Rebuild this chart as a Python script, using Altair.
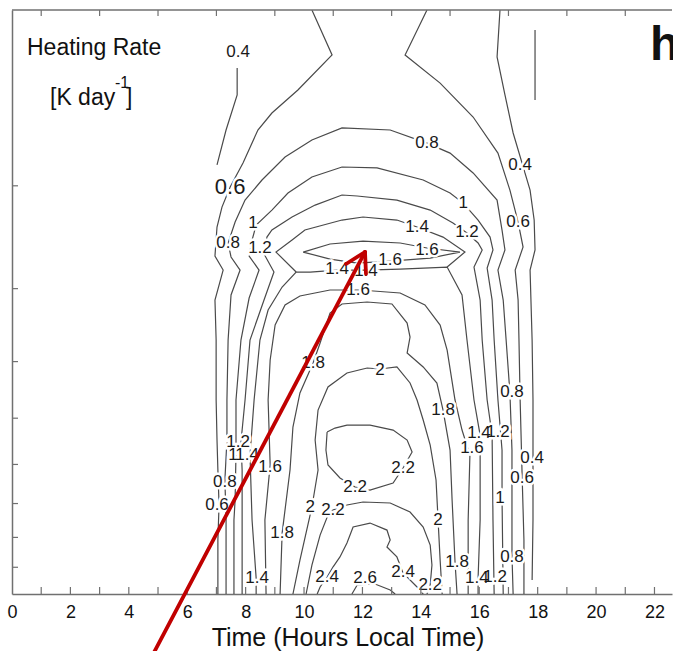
import altair as alt
import pandas as pd

# ---- contour lines: (time in hours, pressure level in hPa) ----
c04_left = [(7.71, 125.7), (7.71, 139.8), (7.33, 160.5), (7.02, 184.2)]
c04_right = [(16.71, 100), (16.61, 120.3), (16.88, 139.8), (17.16, 162.4), (17.74, 203.4),
             (17.88, 228.9), (17.91, 257.6), (17.74, 278.8), (17.81, 367.4), (17.84, 465.4),
             (17.84, 585.0), (17.84, 747.0), (17.81, 946.2)]
c04_right_top = [(17.91, 108.2), (17.91, 142.6)]
c06_left = [(7.05, 1000), (7.05, 808.3), (7.09, 704.0), (7.05, 613.3), (7.02, 545.0), (6.99, 465.4),
            (6.99, 367.4), (6.95, 313.8), (7.23, 278.8), (6.95, 263.8), (7.02, 235.3), (7.19, 217.5),
            (7.47, 200.9), (7.91, 182.8), (8.42, 160.5), (8.90, 150.1), (9.79, 137.1), (10.96, 119.4),
            (10.27, 100)]
c06_right = [(14.21, 100), (13.46, 119.4), (14.66, 133.4), (15.79, 152.5), (16.64, 175.8), (17.05, 203.4),
             (17.33, 230.7), (17.50, 254.6), (17.23, 278.8), (17.33, 313.8), (17.36, 367.4), (17.40, 465.4),
             (17.47, 633.0), (17.53, 808.3), (17.53, 1000)]
c08 = [(7.33, 1000), (7.33, 747.0), (7.29, 638.0), (7.36, 545.0), (7.36, 465.4), (7.40, 367.4), (7.50, 307.6),
       (7.81, 278.8), (7.50, 264.8), (7.40, 250.6), (7.64, 230.7), (7.98, 211.6), (8.56, 195.5), (9.35, 178.5),
       (10.27, 167.0), (11.30, 159.2), (12.95, 160.5), (14.21, 169.0), (15.00, 175.8), (15.79, 190.1),
       (16.61, 211.6), (16.78, 238.1), (16.88, 257.6), (16.64, 278.8), (16.82, 313.8), (16.92, 367.4),
       (17.05, 452.7), (17.12, 566.9), (17.12, 857.2), (17.16, 1000)]
c10 = [(7.60, 1000), (7.60, 747.0), (7.64, 690.2), (7.67, 573.6), (7.67, 465.4), (7.84, 367.4), (8.12, 311.3),
       (8.46, 278.8), (8.12, 263.8), (8.22, 247.7), (8.36, 233.5), (8.90, 220.1), (9.45, 205.8), (10.27, 193.2),
       (11.30, 185.7), (12.50, 186.4), (14.08, 195.5), (15.00, 205.8), (15.45, 214.1), (15.96, 228.9),
       (16.37, 244.8), (16.47, 257.6), (16.27, 276.6), (16.44, 313.8), (16.51, 367.4), (16.64, 465.4),
       (16.78, 566.9), (16.78, 685.0), (16.82, 1000)]
c12 = [(7.88, 1000), (7.88, 747.0), (7.88, 613.3), (7.84, 549.3), (7.98, 465.4), (8.15, 367.4), (8.63, 313.8),
       (8.97, 281.0), (8.63, 261.7), (8.73, 244.8), (8.90, 238.1), (9.59, 226.2), (10.38, 215.8), (11.30, 207.4),
       (11.82, 208.2), (13.18, 211.6), (14.32, 220.1), (15.10, 231.6), (15.58, 240.9), (15.96, 250.6),
       (16.10, 257.6), (15.82, 275.5), (16.03, 313.8), (16.10, 367.4), (16.27, 465.4), (16.44, 534.3),
       (16.47, 747.0), (16.51, 1000)]
c14_main = [(8.36, 1000), (8.36, 939.0), (8.22, 747.0), (8.15, 578.1), (8.29, 465.4), (8.49, 367.4),
            (8.77, 326.4), (9.25, 298.1), (9.73, 281.0), (10.21, 281.0), (11.13, 278.8), (12.09, 278.8),
            (13.29, 277.7), (14.90, 275.5), (15.41, 307.6), (15.58, 367.4), (15.82, 465.4), (16.03, 534.3),
            (16.03, 747.0), (15.96, 939.0), (15.96, 1000)]
c14_arc = [(9.73, 281.0), (9.04, 259.7), (9.59, 247.7), (10.03, 238.1), (11.30, 228.9), (12.02, 226.2),
           (13.18, 228.9), (13.87, 235.3), (14.76, 244.8), (15.51, 259.7), (14.90, 275.5)]
c16_upper = [(9.97, 259.7), (10.89, 251.6), (12.02, 248.7), (13.29, 250.6), (14.21, 255.6), (15.34, 259.7),
             (14.32, 265.9), (12.95, 269.1), (11.82, 271.2), (10.89, 267.0), (9.97, 259.7)]
c16_dome = [(8.70, 1000), (8.66, 747.0), (8.84, 601.3), (8.77, 465.4), (8.84, 397.4), (9.01, 346.3),
            (9.35, 320.0), (9.86, 308.8), (10.89, 301.6), (11.92, 301.6), (13.29, 305.2), (14.14, 320.0),
            (14.66, 346.3), (14.90, 382.2), (15.17, 465.4), (15.41, 523.9), (15.68, 578.1), (15.62, 747.0),
            (15.62, 1000)]
c18 = [(9.18, 1000), (9.25, 786.4), (9.52, 613.3), (9.62, 517.8), (9.86, 452.7), (10.31, 402.1),
       (10.55, 371.7), (10.89, 330.3), (11.30, 318.7), (12.16, 316.2), (13.01, 318.7), (13.53, 343.6),
       (13.63, 363.1), (13.53, 386.7), (14.08, 408.5), (14.55, 435.2), (14.76, 484.2), (15.00, 566.9),
       (15.07, 690.2), (15.17, 881.5), (15.24, 1000)]
c20 = [(9.62, 1000), (9.86, 874.6), (10.27, 709.6), (10.48, 613.3), (10.38, 545.0), (10.48, 484.2),
       (10.82, 442.1), (11.47, 418.4), (12.16, 410.2), (12.60, 411.8), (13.18, 408.5), (13.63, 435.2),
       (13.87, 465.4), (14.08, 503.6), (14.32, 555.9), (14.52, 638.0), (14.59, 747.0), (14.66, 874.6),
       (14.73, 1000)]
c22_loop = [(10.79, 528.0), (11.06, 519.8), (11.47, 513.7), (12.26, 513.7), (13.05, 523.9), (13.53, 545.0),
            (13.70, 571.4), (13.39, 608.4), (13.05, 645.6), (12.26, 663.8), (11.75, 656.0), (11.23, 633.0),
            (10.82, 601.3), (10.75, 566.9), (10.79, 528.0)]
c22_low = [(10.07, 1000), (10.27, 892.2), (10.55, 792.7), (10.82, 732.3), (10.99, 718.1), (11.47, 704.0),
           (12.02, 695.8), (12.95, 698.5), (13.63, 723.8), (14.08, 767.9), (14.32, 824.5), (14.38, 892.2),
           (14.32, 965.1), (14.21, 1000)]
c24 = [(10.45, 1000), (10.55, 972.7), (10.79, 935.2), (10.99, 899.2), (11.23, 864.0), (11.47, 817.9),
       (11.68, 767.9), (12.26, 756.0), (12.84, 777.2), (12.95, 808.3), (12.84, 830.9), (13.18, 864.0),
       (13.39, 920.5), (13.87, 972.7), (14.08, 1000)]
c26 = [(11.64, 1000), (11.82, 965.1), (12.43, 961.4), (12.95, 984.4), (13.12, 1000)]

segments = [
    ("0.4", c04_left), ("0.4", c04_right), ("0.4", c04_right_top),
    ("0.6", c06_left), ("0.6", c06_right), ("0.8", c08), ("1.0", c10), ("1.2", c12),
    ("1.4", c14_main), ("1.4", c14_arc), ("1.6", c16_upper), ("1.6", c16_dome),
    ("1.8", c18), ("2.0", c20), ("2.2", c22_loop), ("2.2", c22_low), ("2.4", c24), ("2.6", c26),
]

# ---- inline contour labels ----
label_text = ["0.4", "0.8", "0.4", "1", "0.6", "1.2", "1", "0.8", "1.2", "1.4", "1.6", "1.6", "1.4", "1.4",
              "1.6", "1.8", "2", "0.8", "1.8", "1.4", "1.2", "1.2", "1", "1.4", "1.6", "1.6", "0.4", "2.2",
              "0.6", "0.8", "2.2", "1", "0.6", "2", "2.2", "2", "1.8", "0.8", "1.8", "2.4", "2.4", "2.6",
              "1.4", "1.4", "1.2", "2.2"]
label_hour = [7.74, 14.21, 17.40, 15.45, 17.33, 15.58, 8.25, 7.40, 8.49, 13.87, 14.21, 12.95, 11.13, 12.12,
              11.85, 10.31, 12.60, 17.12, 14.76, 15.99, 16.64, 7.74, 7.57, 8.05, 8.84, 15.75, 17.81, 13.39,
              17.47, 7.29, 11.75, 16.71, 7.02, 10.21, 10.99, 14.59, 9.25, 17.12, 15.24, 13.39, 10.79, 12.09,
              8.39, 15.92, 16.54, 14.32]
label_hpa = [118.0, 169.0, 184.2, 214.1, 230.7, 240.0, 231.6, 250.6, 255.6, 235.3, 257.6, 268.0, 277.7, 279.9,
             301.6, 402.1, 413.4, 451.0, 484.2, 530.1, 528.0, 549.3, 578.1, 578.1, 605.0, 562.3, 585.0, 608.4,
             633.0, 643.0, 656.0, 685.0, 704.0, 709.6, 718.1, 747.0, 786.4, 864.0, 881.5, 916.8, 935.2, 939.0,
             939.0, 939.0, 935.2, 965.1]
big_label_text = ["0.6"]
big_label_hour = [7.47]
big_label_hpa = [200.9]

x_ticks_bottom = list(range(1, 23))
x_ticks_top = list(range(1, 23, 2))
x_tick_labels = list(range(0, 23, 2))
y_ticks = [200, 300, 400, 500, 600, 700, 800, 900]

rows = []
for sid, (lvl, pts) in enumerate(segments):
    for i, (h, p) in enumerate(pts):
        rows.append({"seg": sid, "level": lvl, "i": i, "hour": h, "hpa": p})
lines_df = pd.DataFrame(rows)
labels_df = pd.DataFrame({"text": label_text, "hour": label_hour, "hpa": label_hpa})
big_df = pd.DataFrame({"text": big_label_text, "hour": big_label_hour, "hpa": big_label_hpa})

FONT = "Liberation Sans"
W, H = 660, 584
AX = "#707070"

xscale = alt.Scale(domain=[0, 22.6], nice=False, zero=False)
yscale = alt.Scale(type="log", domain=[100, 1000], reverse=True, nice=False)
xaxis = alt.Axis(values=x_tick_labels, ticks=False, tickSize=0, grid=False, domainColor=AX, domainWidth=1.5,
                 labelFont=FONT, labelFontSize=18, labelColor="#111", labelPadding=23,
                 labelBaseline="alphabetic", labelFlush=False,
                 title="Time (Hours Local Time)", titleFont=FONT, titleFontSize=25, titleFontWeight="normal",
                 titleColor="#111", titleX=335.5, titleY=51, titleBaseline="alphabetic")
yaxis = alt.Axis(labels=False, ticks=False, tickSize=0, grid=False, domainColor=AX, domainWidth=1.5, title=None)

X = alt.X("hour:Q", scale=xscale, axis=xaxis)
Y = alt.Y("hpa:Q", scale=yscale, axis=yaxis)

lines = alt.Chart(lines_df).mark_line(color="#4a4a4a", strokeWidth=1.2, clip=True).encode(
    x=X, y=Y, detail="seg:N", order="i:Q")

halo = alt.Chart(labels_df).mark_text(font=FONT, fontSize=17, color="white", stroke="white",
                                      strokeWidth=5).encode(x=X, y=Y, text="text:N")
labels = alt.Chart(labels_df).mark_text(font=FONT, fontSize=17, color="#1a1a1a").encode(
    x=X, y=Y, text="text:N")
big_halo = alt.Chart(big_df).mark_text(font=FONT, fontSize=22, color="white", stroke="white",
                                       strokeWidth=5).encode(x=X, y=Y, text="text:N")
big_labels = alt.Chart(big_df).mark_text(font=FONT, fontSize=22, color="#1a1a1a").encode(
    x=X, y=Y, text="text:N")

tb = alt.Chart(pd.DataFrame({"hour": x_ticks_bottom})).mark_rule(color=AX, strokeWidth=1.2).encode(
    x=X, y=alt.value(H), y2=alt.value(H - 7))
tt = alt.Chart(pd.DataFrame({"hour": x_ticks_top})).mark_rule(color=AX, strokeWidth=1.2).encode(
    x=X, y=alt.value(0), y2=alt.value(6))
tl = alt.Chart(pd.DataFrame({"hpa": y_ticks})).mark_rule(color=AX, strokeWidth=1.2).encode(
    y=Y, x=alt.value(0), x2=alt.value(6))

one = pd.DataFrame({"k": [0]})
top_frame = alt.Chart(one).mark_rule(color=AX, strokeWidth=1.5).encode(
    x=alt.value(0), x2=alt.value(W), y=alt.value(0))


def note(text, x, y, size, weight="normal", align="left"):
    return alt.Chart(one).mark_text(text=text, font=FONT, fontSize=size, fontWeight=weight, color="#111",
                                    align=align, baseline="alphabetic").encode(x=alt.value(x), y=alt.value(y))


notes = [
    note("Heating Rate", 15, 45, 23),
    note("[K day", 38, 95, 23),
    note("-1", 103, 78, 16),
    note("]", 114, 95, 23),
    note("h", 638, 50, 48, weight="bold"),
]

RED = "#c00000"


def red(x1, y1, x2, y2):
    return alt.Chart(one).mark_rule(color=RED, strokeWidth=3.8, strokeCap="round").encode(
        x=alt.value(x1), y=alt.value(y1), x2=alt.value(x2), y2=alt.value(y2))


arrow = [red(138, 650, 353, 242), red(353, 242, 334, 254), red(353, 242, 354, 264)]

chart = alt.layer(lines, halo, labels, big_halo, big_labels, tb, tt, tl, top_frame, *notes, *arrow).properties(
    width=W, height=H,
    padding={"left": 12, "top": 10, "right": 1, "bottom": 57},
    autosize=alt.AutoSizeParams(type="none"),
    background="white",
).configure_view(stroke=None)

chart.save("out.html", embed_options={"renderer": "svg", "actions": False})
